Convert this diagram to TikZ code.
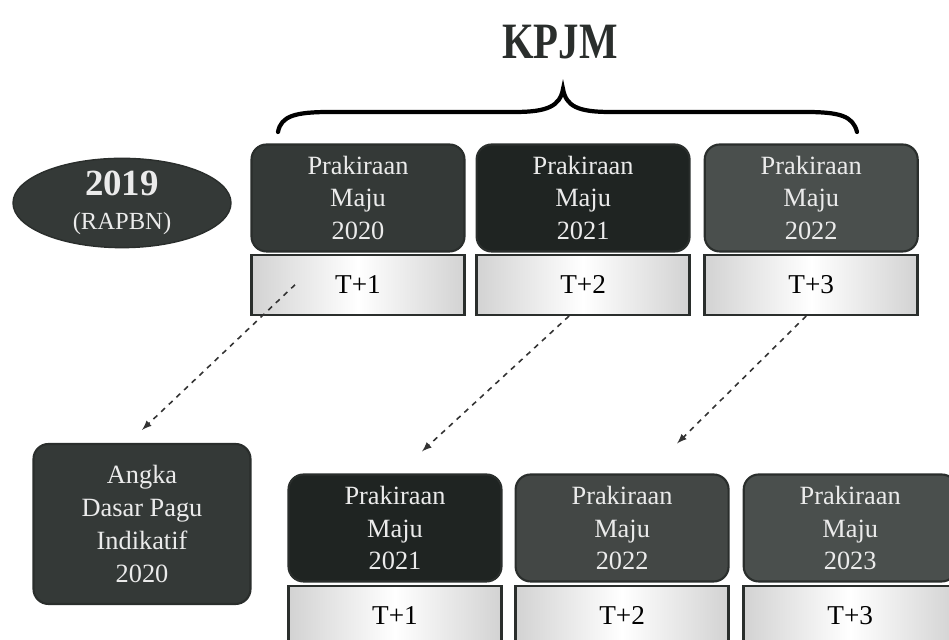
\documentclass[tikz,border=0pt]{standalone}
\usepackage{fontspec}
\setmainfont{Liberation Serif}
\usetikzlibrary{shapes.geometric,positioning}

\definecolor{pmblack}{HTML}{1F2422}
\definecolor{pmdark}{HTML}{343937}
\definecolor{pmgray}{HTML}{4A4F4D}
\definecolor{pmedge}{HTML}{2A2E2C}

\begin{document}
\begin{tikzpicture}[thick,
	    PMblock/.style= {
	        draw=pmedge, line width=1.2pt, rounded corners=0.3cm,
	        text=white!92!black, align=center,
	        font=\fontsize{15}{18.7}\selectfont,
	        minimum width=4.26cm, minimum height=2.14cm},
	    Tblock/.style= {
	        draw=pmedge, line width=1.4pt,
	        left color=gray!35, right color=gray!35, middle color=white,
	        font=\fontsize{15.5}{17}\selectfont,
	        minimum width=4.26cm, minimum height=1.2cm},
	    dasharrow/.style= {-latex, dashed, line width=0.9pt, black!80}]

		\useasboundingbox (0,0) rectangle (18.98,12.8);
		\clip (0,0) rectangle (18.98,12.8);

		% Top row
		\node [ellipse,fill=pmdark,draw=pmedge,text=white!92!black,align=center,inner sep=0pt,
		       minimum width=4.36cm,minimum height=1.76cm] (rapbn) at (2.44,8.74)
		      {{\fontsize{21}{20}\selectfont\bfseries 2019}\\[7pt]{\fontsize{14}{20}\selectfont (RAPBN)}};
		\node [PMblock,fill=pmdark] (p1) at (7.16,8.84) {Prakiraan\\Maju\\2020};
		\node [PMblock,fill=pmblack] (p2) [right=0.2cm of p1] {Prakiraan\\Maju\\2021};
		\node [PMblock,fill=pmgray] (p3) [right=0.26cm of p2] {Prakiraan\\Maju\\2022};
		\node [Tblock] (t1) [below=0.02cm of p1] {T+1};
		\node [Tblock] (t2) [below=0.02cm of p2] {T+2};
		\node [Tblock] (t3) [below=0.02cm of p3] {T+3};

		% Bottom row
		\node [PMblock,fill=pmdark,minimum width=4.34cm,minimum height=3.2cm] (ad) at (2.84,2.32)
		      {Angka\\Dasar Pagu\\Indikatif\\2020};
		\node [PMblock,fill=pmblack] (b1) at (7.9,2.24) {Prakiraan\\Maju\\2021};
		\node [PMblock,fill=pmgray!90!black] (b2) [right=0.24cm of b1] {Prakiraan\\Maju\\2022};
		\node [PMblock,fill=pmgray] (b3) [right=0.26cm of b2] {Prakiraan\\Maju\\2023};
		\node [Tblock] (u1) [below=0.04cm of b1] {T+1};
		\node [Tblock] (u2) [below=0.04cm of b2] {T+2};
		\node [Tblock] (u3) [below=0.04cm of b3] {T+3};

		% Brace and title
		\draw [line width=2.4pt,line cap=round]
		    (5.56,10.16) .. controls (5.62,10.48) and (5.9,10.56) .. (6.6,10.56)
		    -- (10.3,10.56) .. controls (10.95,10.56) and (11.2,10.68) .. (11.26,11.02)
		    .. controls (11.32,10.68) and (11.55,10.56) .. (12.2,10.56)
		    -- (16.1,10.56) .. controls (16.8,10.56) and (17.06,10.48) .. (17.14,10.16);
		\node [font=\fontsize{29}{30}\selectfont\bfseries,text=pmedge] (kpjm) at (11.2,11.96)
		      {\scalebox{0.8}[1]{KPJM}};

		% Arrows
		\path
		    ([xshift=-1.26cm]t1.center) edge[dasharrow] ([yshift=0.26cm]ad.north)
		    ([xshift=-0.28cm]t2.south) edge[dasharrow] ([xshift=0.54cm,yshift=0.44cm]b1.north)
		    ([xshift=-0.1cm]t3.south) edge[dasharrow] ([xshift=1.1cm,yshift=0.6cm]b2.north);

	\end{tikzpicture}
\end{document}
